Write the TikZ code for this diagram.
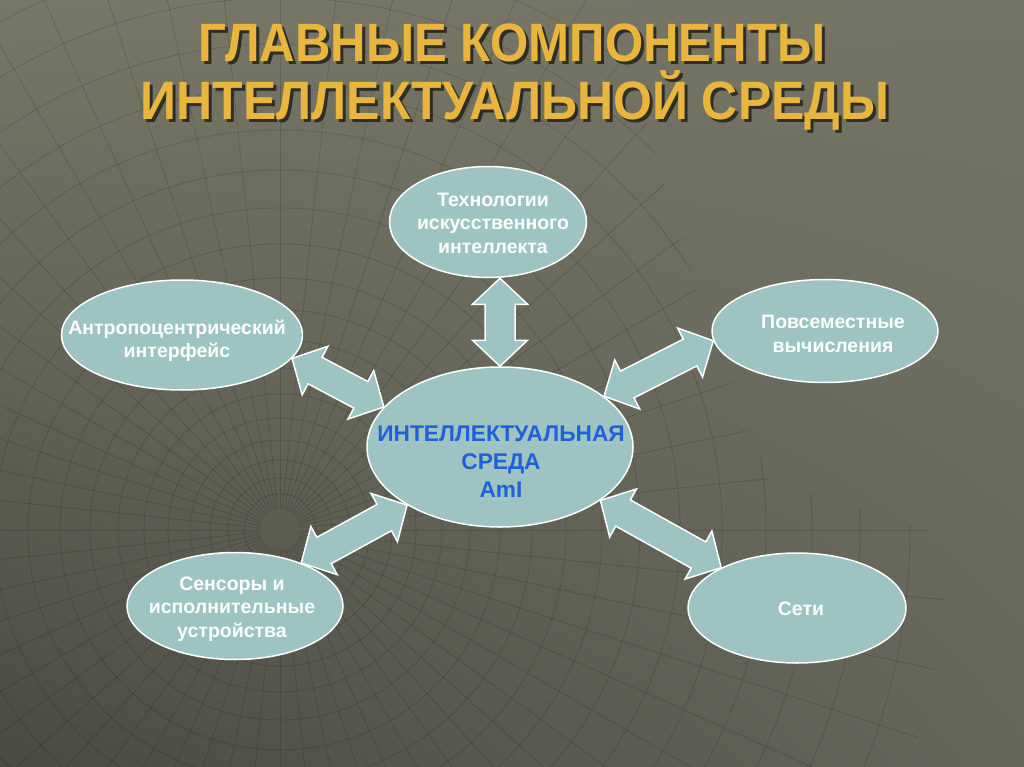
\documentclass[tikz,border=0pt]{standalone}
\usepackage{fontspec}
\setmainfont{Liberation Sans}
\usetikzlibrary{shapes.geometric,calc,shadings}
\definecolor{bgul}{HTML}{787868}
\definecolor{bgur}{HTML}{747466}
\definecolor{bgll}{HTML}{4A4A42}
\definecolor{bglr}{HTML}{66665B}
\definecolor{ellfill}{HTML}{9DC3C3}
\definecolor{titlegold}{HTML}{E9B53C}
\definecolor{titleshadow}{HTML}{2E2E26}
\definecolor{ctrblue}{HTML}{1F62D8}
\newcommand\hl{26pt}
\newcommand\hw{27.5pt}
\newcommand\sw{15pt}
\newcommand\blockarrow[2]{%
  \coordinate (q1) at ($(#1)!\hl!(#2)$);
  \coordinate (q2) at ($(#2)!\hl!(#1)$);
  \draw[barrow] (#1)
    -- ($(q1)!\hw!90:(#2)$) -- ($(q1)!\sw!90:(#2)$)
    -- ($(q2)!\sw!-90:(#1)$) -- ($(q2)!\hw!-90:(#1)$)
    -- (#2)
    -- ($(q2)!\hw!90:(#1)$) -- ($(q2)!\sw!90:(#1)$)
    -- ($(q1)!\sw!-90:(#2)$) -- ($(q1)!\hw!-90:(#2)$)
    -- cycle;}
\begin{document}
\begin{tikzpicture}[x=1pt,y=-1pt,
  ell/.style={ellipse, draw=white, line width=1.5pt, fill=ellfill, inner sep=0pt},
  etxt/.style={align=center, text=white, inner sep=0pt, font=\bfseries\fontsize{19.5}{23.5}\selectfont},
  ctxt/.style={align=center, text=ctrblue, inner sep=0pt, font=\bfseries\fontsize{22.7}{28}\selectfont},
  barrow/.style={draw=white, line width=1.5pt, fill=ellfill, line join=miter},
  ttl/.style={font=\bfseries\fontsize{54}{60}\selectfont, inner sep=0pt, anchor=base},
  gridline/.style={draw=black, opacity=0.14, line width=0.8pt}]
\useasboundingbox (0,0) rectangle (1024,767);
\shade[upper left=bgul, upper right=bgur, lower left=bgll, lower right=bglr] (0,0) rectangle (1024,767);
\begin{scope}
  \clip (0,0) -- (610,0) -- (700,300) -- (770,480) -- (1024,560) -- (1024,767) -- (0,767) -- cycle;
  \foreach \r in {36,52,70,90,112,136,162,190,220,252,286,322,360,400,442,486,532,580,630}
    \draw[gridline] (280,530) circle[radius=\r];
  \foreach \a in {0,6,...,354}
    \draw[gridline] (280,530) ++(\a:20) -- ++(\a:650);
\end{scope}
% title
\node[ttl, text=titleshadow] at (515,65) {\scalebox{0.91}[1]{ГЛАВНЫЕ КОМПОНЕНТЫ}};
\node[ttl, text=titlegold] (t1) at (512,62) {\scalebox{0.91}[1]{ГЛАВНЫЕ КОМПОНЕНТЫ}};
\node[ttl, text=titleshadow] at (518,123) {\scalebox{0.925}[1]{ИНТЕЛЛЕКТУАЛЬНОЙ СРЕДЫ}};
\node[ttl, text=titlegold] (t2) at (515,120) {\scalebox{0.925}[1]{ИНТЕЛЛЕКТУАЛЬНОЙ СРЕДЫ}};
% ellipses
\node[ell, minimum width=197pt, minimum height=111pt] (top) at (488,222) {};
\node[ell, minimum width=241pt, minimum height=110pt] (L) at (182,335) {};
\node[ell, minimum width=226pt, minimum height=103pt] (R) at (825,331) {};
\node[ell, minimum width=266pt, minimum height=160pt] (c) at (500,447) {};
\node[ell, minimum width=216pt, minimum height=107pt] (BL) at (235,606) {};
\node[ell, minimum width=218pt, minimum height=110pt] (BR) at (797,608) {};
% arrows
\coordinate (vtop) at (c.north |- top.south);
\blockarrow{vtop}{c.north}
\blockarrow{L.348}{c.161}
\blockarrow{c.26}{R.185}
\blockarrow{BL.33}{c.212}
\blockarrow{c.332}{BR.152}
% texts
\node[etxt] (ttop) at (493,223) {Технологии\\искусственного\\интеллекта};
\node[etxt] (tL) at (177,341) {Антропоцентрический\\интерфейс};
\node[etxt] (tR) at (833,334) {Повсеместные\\вычисления};
\node[ctxt] (tc) at (501,462) {ИНТЕЛЛЕКТУАЛЬНАЯ\\СРЕДА\\AmI};
\node[etxt] (tBL) at (232,609) {Сенсоры и\\исполнительные\\устройства};
\node[etxt] (tBR) at (801,609) {Сети};
\end{tikzpicture}
\end{document}
